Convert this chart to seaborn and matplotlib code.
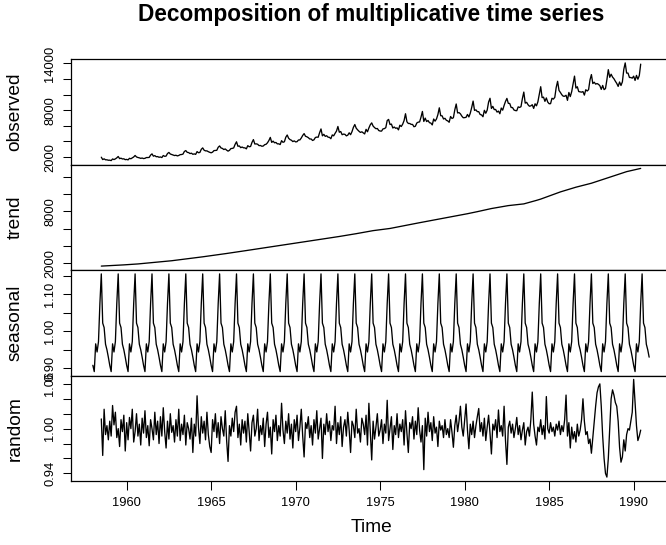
import numpy as np
import pandas as pd
import matplotlib
matplotlib.use("Agg")
import matplotlib.pyplot as plt
import seaborn as sns

# ---------------- data ----------------
title_text = "Decomposition of multiplicative time series"
panel_names = ["observed", "trend", "seasonal", "random"]
x_label = "Time"
x_ticks = [1960, 1965, 1970, 1975, 1980, 1985, 1990]

start_year = 1958          # series starts January 1958, monthly, 396 months
n_months = 396
edge_missing = 6           # trend / random undefined for first & last 6 months

# seasonal factors Jan..Dec
seasonal_factors = [0.908, 0.891, 0.966, 0.944, 0.972, 1.075,
                    1.155, 1.022, 1.010, 0.965, 0.950, 0.930]

# trend, Jul 1958 .. Jun 1990
trend_values = [
    1690, 1698, 1707, 1715, 1723, 1732,
    1740, 1748, 1757, 1765, 1773, 1782, 1790, 1800, 1810, 1820, 1830, 1840,
    1850, 1860, 1870, 1880, 1890, 1900, 1910, 1924, 1938, 1953, 1967, 1981,
    1995, 2009, 2023, 2038, 2052, 2066, 2080, 2096, 2112, 2128, 2143, 2159,
    2175, 2191, 2207, 2223, 2238, 2254, 2270, 2289, 2308, 2328, 2347, 2366,
    2385, 2404, 2423, 2443, 2462, 2481, 2500, 2522, 2543, 2565, 2587, 2608,
    2630, 2652, 2673, 2695, 2717, 2738, 2760, 2782, 2803, 2825, 2847, 2868,
    2890, 2912, 2933, 2955, 2977, 2998, 3020, 3045, 3070, 3095, 3120, 3145,
    3170, 3195, 3220, 3245, 3270, 3295, 3320, 3343, 3367, 3390, 3413, 3437,
    3460, 3483, 3507, 3530, 3553, 3577, 3600, 3625, 3650, 3675, 3700, 3725,
    3750, 3775, 3800, 3825, 3850, 3875, 3900, 3925, 3950, 3975, 4000, 4025,
    4050, 4075, 4100, 4125, 4150, 4175, 4200, 4225, 4250, 4275, 4300, 4325,
    4350, 4375, 4400, 4425, 4450, 4475, 4500, 4523, 4547, 4570, 4593, 4617,
    4640, 4663, 4687, 4710, 4733, 4757, 4780, 4805, 4830, 4855, 4880, 4905,
    4930, 4955, 4980, 5005, 5030, 5055, 5080, 5107, 5133, 5160, 5187, 5213,
    5240, 5267, 5293, 5320, 5347, 5373, 5400, 5430, 5460, 5490, 5520, 5550,
    5580, 5610, 5640, 5670, 5700, 5730, 5760, 5780, 5800, 5820, 5840, 5860,
    5880, 5900, 5920, 5940, 5960, 5980, 6000, 6032, 6063, 6095, 6127, 6158,
    6190, 6222, 6253, 6285, 6317, 6348, 6380, 6412, 6443, 6475, 6507, 6538,
    6570, 6602, 6633, 6665, 6697, 6728, 6760, 6790, 6820, 6850, 6880, 6910,
    6940, 6970, 7000, 7030, 7060, 7090, 7120, 7150, 7180, 7210, 7240, 7270,
    7300, 7330, 7360, 7390, 7420, 7450, 7480, 7512, 7543, 7575, 7607, 7638,
    7670, 7702, 7733, 7765, 7797, 7828, 7860, 7897, 7933, 7970, 8007, 8043,
    8080, 8117, 8153, 8190, 8227, 8263, 8300, 8329, 8358, 8388, 8417, 8446,
    8475, 8504, 8533, 8563, 8592, 8621, 8650, 8668, 8686, 8704, 8722, 8740,
    8758, 8776, 8794, 8812, 8830, 8848, 8866, 8910, 8955, 9000, 9045, 9090,
    9135, 9180, 9225, 9272, 9320, 9370, 9420, 9480, 9540, 9600, 9660, 9720,
    9780, 9840, 9900, 9962, 10025, 10088, 10150, 10200, 10250, 10300, 10350, 10400,
    10450, 10500, 10550, 10600, 10650, 10700, 10750, 10792, 10833, 10875, 10917, 10958,
    11000, 11042, 11083, 11125, 11167, 11208, 11250, 11304, 11358, 11412, 11467, 11521,
    11575, 11629, 11683, 11737, 11792, 11846, 11900, 11954, 12008, 12062, 12117, 12171,
    12225, 12279, 12333, 12387, 12442, 12496, 12550, 12587, 12625, 12662, 12699, 12737,
    12774, 12811, 12849, 12886, 12923, 12960,
]

# random (remainder), Jul 1958 .. Jun 1990
random_values = [
    1.013, 0.964, 1.026, 0.992, 1.004, 0.985,
    1.010, 0.990, 1.031, 1.005, 1.022, 0.988, 1.000, 0.976, 1.012, 0.996, 1.018, 0.970,
    1.008, 0.985, 1.015, 1.000, 1.026, 0.982, 0.996, 1.020, 0.990, 1.006, 0.978, 1.014,
    0.994, 1.024, 0.988, 1.004, 0.977, 1.012, 1.000, 0.985, 1.022, 0.992, 1.010, 0.980,
    1.016, 0.990, 1.028, 0.996, 0.974, 1.010, 0.986, 1.020, 0.995, 1.004, 0.982, 1.012,
    0.990, 1.026, 0.984, 1.006, 0.992, 1.018, 0.978, 1.008, 1.000, 0.986, 1.014, 0.968,
    1.006, 0.990, 1.044, 1.002, 0.980, 1.016, 0.994, 1.010, 0.985, 1.022, 0.992, 0.976,
    0.968, 1.012, 0.996, 1.020, 0.988, 1.008, 0.980, 1.016, 1.000, 0.990, 1.024, 0.984,
    0.956, 1.004, 0.990, 1.014, 0.996, 1.022, 1.030, 0.988, 1.006, 0.978, 1.012, 0.994,
    1.010, 0.982, 1.020, 0.996, 0.970, 1.008, 1.018, 0.990, 1.000, 1.026, 0.984, 1.004,
    0.992, 1.014, 0.976, 1.006, 1.022, 0.988, 1.002, 0.966, 1.012, 0.996, 1.018, 0.984,
    1.004, 0.990, 1.034, 0.998, 0.980, 1.010, 0.994, 1.020, 0.986, 1.006, 0.974, 1.012,
    0.996, 1.018, 0.984, 1.002, 1.026, 0.990, 0.962, 1.008, 1.000, 1.016, 0.988, 1.004,
    0.978, 1.012, 0.994, 1.024, 0.986, 1.000, 1.014, 0.960, 1.006, 0.992, 1.020, 0.996,
    1.010, 0.984, 1.004, 0.998, 1.030, 0.980, 1.008, 0.992, 1.016, 0.976, 1.002, 1.012,
    0.990, 1.022, 0.998, 0.968, 1.010, 1.004, 0.988, 1.026, 0.994, 1.000, 0.982, 1.014,
    1.006, 0.992, 1.018, 0.978, 1.034, 0.996, 0.958, 1.010, 0.986, 1.002, 1.020, 0.990,
    0.998, 1.012, 0.980, 1.006, 0.994, 1.038, 0.984, 1.000, 1.016, 0.972, 1.004, 0.992,
    1.020, 0.988, 1.006, 0.996, 1.012, 0.978, 1.024, 0.994, 0.968, 1.008, 1.000, 1.016,
    0.986, 1.010, 0.992, 1.028, 0.998, 0.982, 1.004, 0.945, 1.014, 0.990, 1.022, 0.996,
    1.008, 0.984, 1.016, 0.994, 1.002, 0.976, 1.010, 0.998, 1.004, 0.988, 1.012, 0.992,
    1.000, 0.988, 1.012, 0.995, 0.975, 1.004, 1.018, 0.996, 1.010, 1.030, 1.002, 0.990,
    1.012, 1.033, 0.998, 0.973, 1.006, 0.992, 1.010, 0.988, 1.004, 1.016, 1.027, 0.996,
    1.008, 0.990, 1.014, 0.984, 1.002, 1.018, 0.994, 0.966, 1.006, 0.998, 1.012, 0.988,
    1.025, 0.996, 1.004, 0.990, 1.030, 0.984, 0.952, 1.002, 1.010, 0.994, 1.006, 0.988,
    1.000, 1.015, 0.992, 1.004, 0.985, 0.998, 1.008, 0.978, 0.996, 1.002, 0.990, 1.012,
    1.049, 1.006, 0.990, 0.978, 1.002, 0.996, 1.012, 0.992, 1.004, 0.986, 1.043, 1.000,
    0.994, 1.008, 0.996, 1.002, 0.990, 1.006, 0.998, 1.010, 0.992, 1.004, 0.996, 1.012,
    1.045, 0.990, 1.008, 0.974, 1.002, 0.986, 0.996, 0.982, 1.006, 0.990, 0.998, 1.012,
    1.040, 1.010, 0.992, 0.996, 0.980, 0.986, 0.967, 0.988, 1.010, 1.030, 1.048, 1.056,
    1.060, 1.030, 0.990, 0.960, 0.940, 0.935, 0.960, 1.000, 1.040, 1.052, 1.045, 1.035,
    1.030, 1.010, 0.975, 0.955, 0.962, 0.985, 0.970, 0.992, 1.000, 0.998, 1.010, 1.022,
    1.066, 1.035, 1.004, 0.984, 0.990, 0.998,
]

panel_ticks = [
    [2000, 4000, 6000, 8000, 10000, 12000, 14000],
    [2000, 4000, 6000, 8000, 10000, 12000],
    [0.90, 0.95, 1.00, 1.05, 1.10, 1.15],
    [0.94, 0.96, 0.98, 1.00, 1.02, 1.04, 1.06],
]
panel_tick_labels = [
    ["2000", "", "", "8000", "", "", "14000"],
    ["2000", "", "", "8000", "", ""],
    ["0.90", "", "1.00", "", "1.10", ""],
    ["0.94", "", "", "1.00", "", "", "1.06"],
]

# ---------------- assemble ----------------
time = start_year + np.arange(n_months) / 12.0
month_idx = np.arange(n_months) % 12
seasonal = np.array(seasonal_factors)[month_idx]
pad = np.full(edge_missing, np.nan)
trend = np.concatenate([pad, np.array(trend_values, float), pad])
rand = np.concatenate([pad, np.array(random_values, float), pad])
if len(trend) != n_months or len(rand) != n_months:
    raise ValueError(f"length mismatch {len(trend_values)} {len(random_values)}")
observed = trend * seasonal * rand

df = pd.DataFrame({"time": time, "observed": observed, "trend": trend,
                   "seasonal": seasonal, "random": rand})

# ---------------- plot ----------------
sns.set_theme(style="ticks")
plt.rcParams['font.family'] = ['Liberation Sans', 'DejaVu Sans']

W, H = 666, 545
fig = plt.figure(figsize=(W / 100, H / 100), dpi=100)
left_px, right_px = 70.6, 671.4
edges = [59, 164.5, 270, 375.5, 481]

t0, t1 = time[0], time[-1]
xr = t1 - t0
xlim = (t0 - 0.04 * xr, t1 + 0.04 * xr)

for i, name in enumerate(panel_names):
    top, bot = edges[i], edges[i + 1]
    ax = fig.add_axes([left_px / W, 1 - bot / H, (right_px - left_px) / W, (bot - top) / H])
    sub = df[["time", name]].dropna()
    sns.lineplot(data=sub, x="time", y=name, ax=ax, color="black",
                 linewidth=0.95, estimator=None, sort=False)
    lo, hi = sub[name].min(), sub[name].max()
    r = hi - lo
    ax.set_ylim(lo - 0.04 * r, hi + 0.04 * r)
    ax.set_xlim(*xlim)
    ax.set_yticks(panel_ticks[i])
    ax.set_yticklabels(panel_tick_labels[i], rotation=90, va="center")
    ax.tick_params(axis="y", direction="out", length=5.8, width=0.75,
                   labelsize=9.3, pad=4.5, colors="black")
    ax.set_xlabel("")
    ax.set_ylabel("")
    for sp in ax.spines.values():
        sp.set_visible(True)
        sp.set_linewidth(0.9)
        sp.set_color("black")
    if i < 3:
        ax.tick_params(axis="x", bottom=False, labelbottom=False)
    else:
        ax.set_xticks(x_ticks)
        ax.set_xticklabels([str(v) for v in x_ticks])
        ax.tick_params(axis="x", direction="out", length=6.2, width=0.75,
                       labelsize=9.3, pad=5.5, colors="black")
    fig.text(15 / W, 1 - (top + bot) / 2 / H, name, rotation=90,
             ha="center", va="center", fontsize=13.8, color="black")

fig.text((left_px + right_px) / 2 / W, 1 - 15 / H, title_text, ha="center",
         va="center", fontsize=16.3, fontweight="bold", color="black")
fig.text((left_px + right_px) / 2 / W, 1 - 528 / H, x_label, ha="center",
         va="center", fontsize=13.8, color="black")

fig.savefig("out.png", dpi=100, facecolor="white")
